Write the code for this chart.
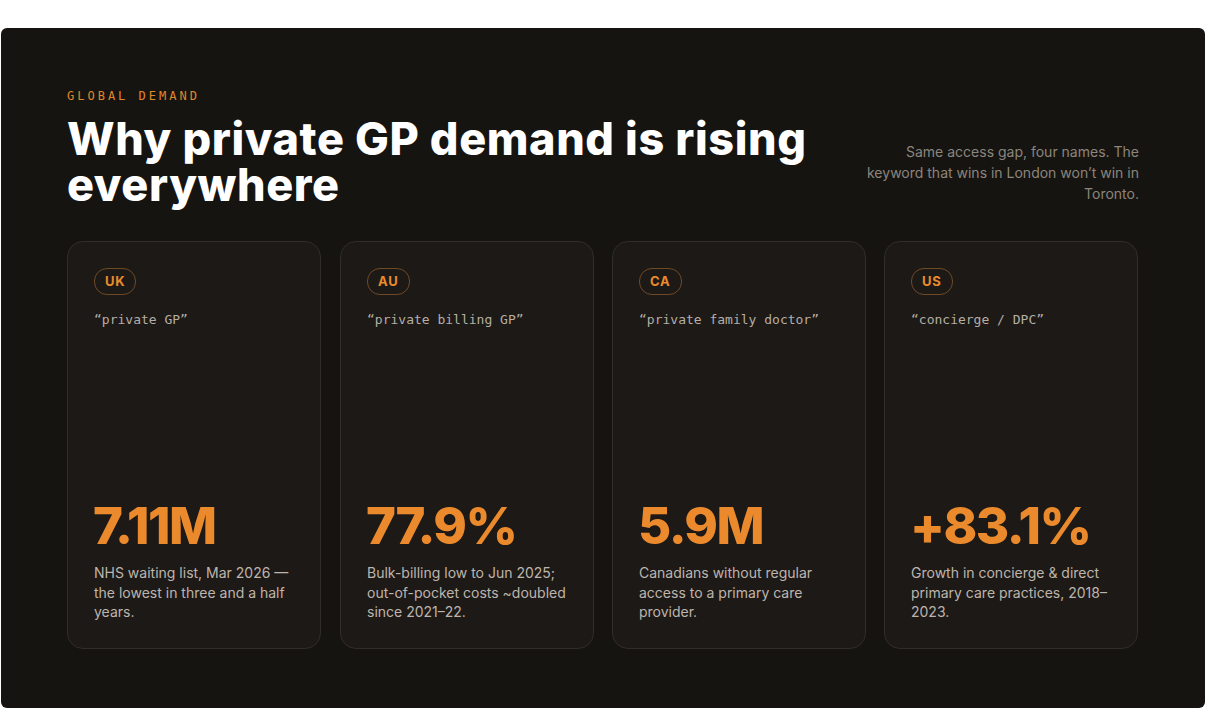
<!DOCTYPE html>
<html>
<head>
<meta charset="utf-8">
<script src="https://cdn.jsdelivr.net/npm/chart.js@4"></script>
<style>
  html, body { margin: 0; padding: 0; background: #ffffff; }
  body { width: 1206px; height: 709px; position: relative; overflow: hidden; font-family: Inter, "Noto Sans", sans-serif; }
  .panel { position: absolute; left: 1px; top: 28px; width: 1204px; height: 680px; background: #151410; border-radius: 6px; }
  .kicker { position: absolute; left: 67px; top: 89px; font: 12px "DejaVu Sans Mono", monospace; letter-spacing: 3px; color: #e0862b; }
  h1 { position: absolute; left: 67px; top: 116px; margin: 0; font: 800 45px/46px Inter, sans-serif; letter-spacing: 0.6px; color: #fff; width: 800px; }
  .note { position: absolute; right: 67px; top: 141px; width: 285px; text-align: right; font: 14px/21px Inter, sans-serif; color: #8c857d; }
  .card { position: absolute; top: 241px; width: 254px; height: 408px; background: #1d1916; border: 1px solid #322d29; border-radius: 16px; box-sizing: border-box; }
  .tag { position: absolute; left: 26px; top: 26px; height: 25px; padding: 0 10px; border: 1px solid #6e4a25; border-radius: 13px; font: 700 13px/25px Inter, sans-serif; color: #e98b2c; letter-spacing: 0.8px; }
  .kw { position: absolute; left: 26px; top: 70px; font: 13px "DejaVu Sans Mono", monospace; color: #b5aea6; }
  .big { position: absolute; left: 25px; top: 254px; font: 800 51px/60px Inter, sans-serif; letter-spacing: -1.5px; color: #ea8a2c; }
  .desc { position: absolute; left: 26px; top: 321px; width: 205px; font: 14px/19.5px Inter, sans-serif; color: #bdb5ad; }
</style>
</head>
<body>
<div class="panel"></div>
<div class="kicker">GLOBAL DEMAND</div>
<h1>Why private GP demand is rising everywhere</h1>
<div class="note">Same access gap, four names. The keyword that wins in London won’t win in Toronto.</div>
<div id="cards"></div>
<script>
// card data
const countries = ['UK', 'AU', 'CA', 'US'];
const keywords = ['“private GP”', '“private billing GP”', '“private family doctor”', '“concierge / DPC”'];
const headline = ['7.11M', '77.9%', '5.9M', '+83.1%'];
const captions = [
  'NHS waiting list, Mar 2026 — the lowest in three and a half years.',
  'Bulk-billing low to Jun 2025; out-of-pocket costs ~doubled since 2021–22.',
  'Canadians without regular access to a primary care provider.',
  'Growth in concierge & direct primary care practices, 2018–2023.'
];

const cardLeft = [67, 340, 612, 884];
const wrap = document.getElementById('cards');
countries.forEach((c, i) => {
  const el = document.createElement('div');
  el.className = 'card';
  el.style.left = cardLeft[i] + 'px';
  el.innerHTML = `<div class="tag">${c}</div><div class="kw">${keywords[i]}</div>` +
    `<div class="big">${headline[i]}</div><div class="desc">${captions[i]}</div>`;
  wrap.appendChild(el);
});
</script>
</body>
</html>
